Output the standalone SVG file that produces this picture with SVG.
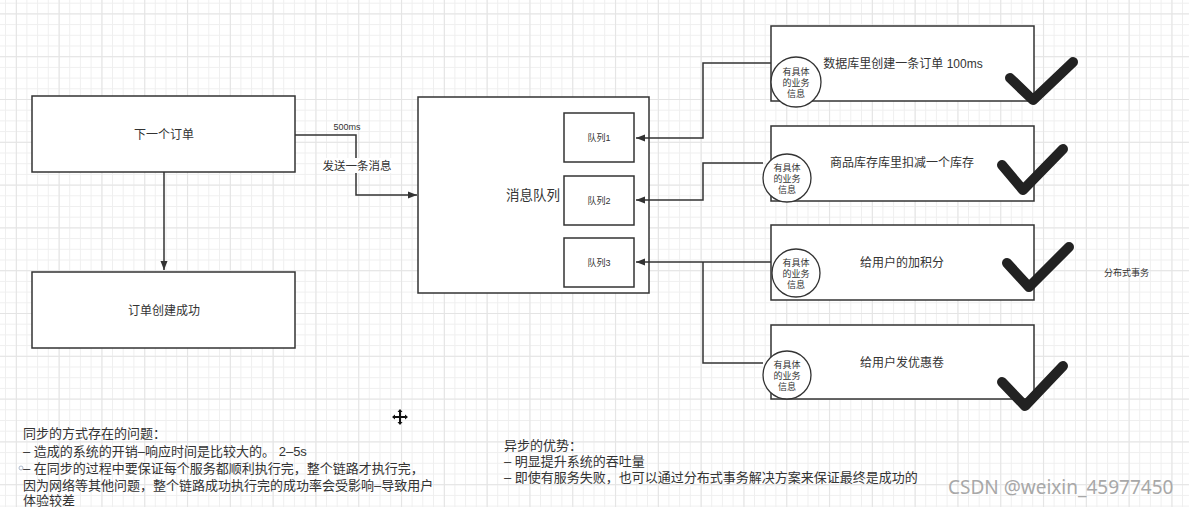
<svg xmlns="http://www.w3.org/2000/svg" width="1189" height="507" viewBox="0 0 1189 507">
<defs>
<pattern id="grid" patternUnits="userSpaceOnUse" width="10.7" height="10.7" x="5" y="2.7">
<path d="M0 0.5H10.7M0.5 0V10.7" stroke="#efefef" stroke-width="1" fill="none"/>
</pattern>
<pattern id="grid4" patternUnits="userSpaceOnUse" width="42.8" height="42.8" x="15.9" y="13.4">
<path d="M0 0.5H42.8M0.5 0V42.8" stroke="#e4e4e4" stroke-width="1" fill="none"/>
</pattern>
<marker id="arr" markerWidth="10" markerHeight="8" refX="9" refY="4" orient="auto" markerUnits="userSpaceOnUse">
<path d="M0 0.5L9 4L0 7.5Z" fill="#333"/>
</marker>
<style>
.box{fill:#fff;stroke:#333;stroke-width:1.5}
.circ{fill:#fff;stroke:#333;stroke-width:1.3}
.conn{fill:none;stroke:#333;stroke-width:1.5}
.t{font-family:"Liberation Sans","Noto Sans CJK SC",sans-serif;fill:#333}
.mid{text-anchor:middle}
.ck{fill:none;stroke:#222;stroke-width:10;stroke-linecap:round;stroke-linejoin:round}
</style>
</defs>
<rect width="1189" height="507" fill="#fff"/>
<rect width="1189" height="507" fill="url(#grid)"/>
<rect width="1189" height="507" fill="url(#grid4)"/>

<g id="node-next-order">
<rect class="box" x="32" y="96" width="263" height="76"/>
<text class="t mid" x="164" y="139" font-size="12">下一个订单</text>
</g>
<g id="node-order-created">
<rect class="box" x="32" y="272" width="263" height="76"/>
<text class="t mid" x="164" y="315" font-size="12">订单创建成功</text>
</g>

<g id="node-mq">
<rect class="box" x="418" y="97" width="231" height="196"/>
<text class="t mid" x="533" y="200" font-size="13.5">消息队列</text>
</g>
<g id="node-q1">
<rect class="box" x="564" y="113" width="70" height="49"/>
<text class="t mid" x="599" y="141" font-size="9">队列1</text>
</g>
<g id="node-q2">
<rect class="box" x="564" y="176" width="70" height="49"/>
<text class="t mid" x="599" y="204" font-size="9">队列2</text>
</g>
<g id="node-q3">
<rect class="box" x="564" y="238" width="70" height="49"/>
<text class="t mid" x="599" y="266" font-size="9">队列3</text>
</g>

<g id="connectors">
<path class="conn" d="M164 172V270" marker-end="url(#arr)"/>
<path class="conn" d="M295 135H356V195H417" marker-end="url(#arr)"/>
<path class="conn" d="M771 63H703V138H636" marker-end="url(#arr)"/>
<path class="conn" d="M763 163H703V200H636" marker-end="url(#arr)"/>
<path class="conn" d="M771 262H636" marker-end="url(#arr)"/>
<path class="conn" d="M703 262V363H763"/>
<rect x="322" y="158" width="70" height="15" fill="#fff"/>
<text class="t mid" x="347" y="130" font-size="9">500ms</text>
<text class="t mid" x="357" y="170" font-size="11.5">发送一条消息</text>
</g>

<g id="node-db">
<rect class="box" x="771" y="26" width="263" height="75"/>
<text class="t mid" x="903" y="68" font-size="12">数据库里创建一条订单 100ms</text>
<circle class="circ" cx="796" cy="82" r="25"/>
<text class="t mid" font-size="9"><tspan x="796" y="74.5">有具体</tspan><tspan x="796" y="85.5">的业务</tspan><tspan x="796" y="96.5">信息</tspan></text>
<path class="ck" d="M1010 78L1033 100L1073 62"/>
</g>
<g id="node-stock">
<rect class="box" x="771" y="126" width="263" height="75"/>
<text class="t mid" x="902" y="167" font-size="12">商品库存库里扣减一个库存</text>
<circle class="circ" cx="787" cy="178" r="24"/>
<text class="t mid" font-size="9"><tspan x="787" y="170.5">有具体</tspan><tspan x="787" y="181.5">的业务</tspan><tspan x="787" y="192.5">信息</tspan></text>
<path class="ck" d="M1002 165L1023 190L1063 149"/>
</g>
<g id="node-points">
<rect class="box" x="771" y="225" width="263" height="75"/>
<text class="t mid" x="902" y="267" font-size="12">给用户的加积分</text>
<circle class="circ" cx="796" cy="273" r="24"/>
<text class="t mid" font-size="9"><tspan x="796" y="265.5">有具体</tspan><tspan x="796" y="276.5">的业务</tspan><tspan x="796" y="287.5">信息</tspan></text>
<path class="ck" d="M1007 263L1029 287L1069 247"/>
</g>
<g id="node-coupon">
<rect class="box" x="771" y="325" width="263" height="74"/>
<text class="t mid" x="902" y="367" font-size="12">给用户发优惠卷</text>
<circle class="circ" cx="787" cy="375" r="24"/>
<text class="t mid" font-size="9"><tspan x="787" y="367.5">有具体</tspan><tspan x="787" y="378.5">的业务</tspan><tspan x="787" y="389.5">信息</tspan></text>
<path class="ck" d="M1002 382L1025 406L1063 366"/>
</g>

<text class="t" x="1104" y="276" font-size="9">分布式事务</text>

<g id="notes-sync">
<text class="t" font-size="13" x="23"><tspan x="23" y="438">同步的方式存在的问题：</tspan><tspan x="23" y="456">– 造成的系统的开销–响应时间是比较大的。 2–5s</tspan><tspan x="23" y="473">– 在同步的过程中要保证每个服务都顺利执行完，整个链路才执行完，</tspan><tspan x="23" y="490">因为网络等其他问题，整个链路成功执行完的成功率会受影响–导致用户</tspan><tspan x="23" y="505">体验较差</tspan></text>
<circle cx="21" cy="468" r="2" fill="none" stroke="#9aa8c0" stroke-width="0.8"/>
</g>

<g id="notes-async">
<text class="t" font-size="13"><tspan x="504" y="450">异步的优势：</tspan><tspan x="504" y="466">– 明显提升系统的吞吐量</tspan><tspan x="504" y="482">– 即使有服务失败，也可以通过分布式事务解决方案来保证最终是成功的</tspan></text>
</g>

<g id="cursor">
<path d="M400 410V424M393 417H407" stroke="#111" stroke-width="2"/>
<path d="M400 409L397.5 412H402.5ZM400 425L397.5 422H402.5ZM392 417L395 414.5V419.5ZM408 417L405 414.5V419.5Z" fill="#111"/>
</g>

<text x="948" y="494" font-family="'Noto Sans','DejaVu Sans',sans-serif" font-size="19" fill="#a8a8a8">CSDN @weixin_45977450</text>
</svg>
